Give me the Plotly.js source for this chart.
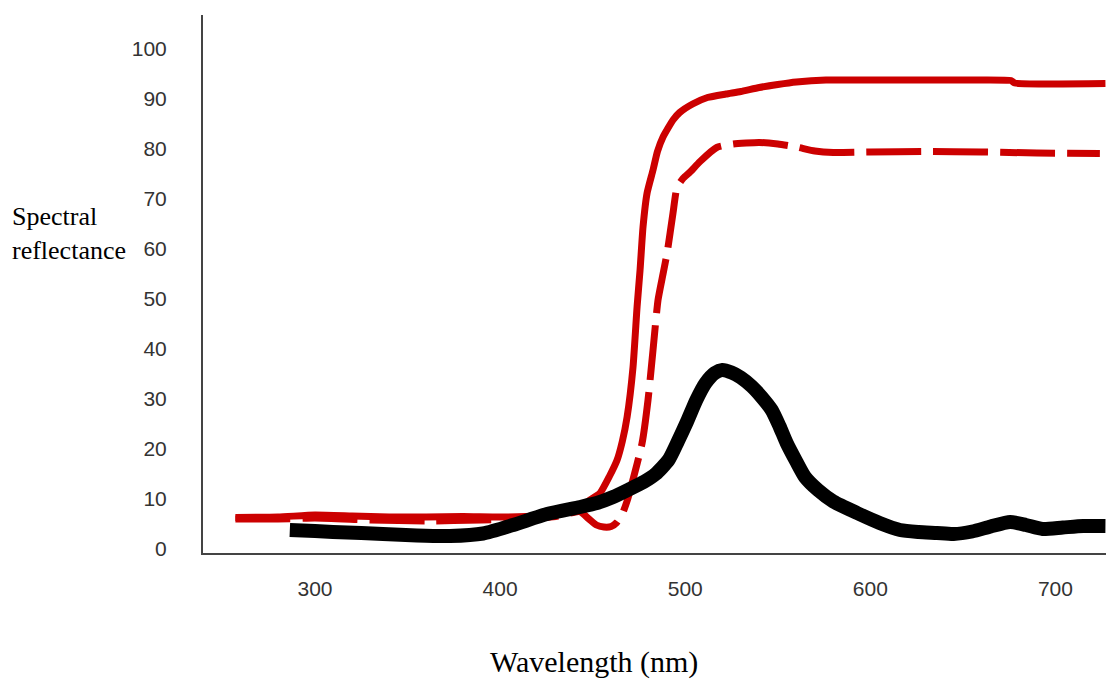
<!DOCTYPE html>
<html>
<head>
<meta charset="utf-8">
<script src="https://cdn.plot.ly/plotly-3.0.1.min.js"></script>
<style>
  html, body { margin: 0; padding: 0; background: #ffffff; }
  #chart { width: 1106px; height: 683px; }
</style>
</head>
<body>
<div id="chart"></div>
<script>
// Wavelength (nm) and spectral reflectance values
const solidX = [257, 280, 300, 320, 340, 360, 380, 400, 420, 435, 443, 448.5, 454, 459, 463.2, 466, 468.6, 471.8, 474, 475.6, 477.2, 479.4, 482.6, 485, 488, 493.4, 497, 504, 512, 522, 530, 540, 550, 560, 576, 600, 650, 676, 678, 727];
const solidY = [6.3, 6.4, 6.8, 6.6, 6.4, 6.4, 6.5, 6.4, 6.6, 7.4, 8.5, 9.8, 11.2, 14.5, 17.8, 21.5, 26.4, 36.4, 48.5, 55.8, 64.4, 71.2, 75.8, 79.5, 82.4, 85.8, 87.3, 89, 90.3, 91, 91.5, 92.3, 92.9, 93.4, 93.8, 93.8, 93.8, 93.7, 93.2, 93.1];

const dashX = [257, 280, 300, 330, 360, 390, 410, 430, 443, 448, 452, 456, 460, 463, 466, 468.5, 471.3, 476.7, 479.9, 482.6, 485.3, 488, 490.2, 493.4, 495.6, 499, 502.6, 508, 517, 526, 540, 550, 560, 570, 580, 600, 630, 660, 690, 724];
const dashY = [6.0, 6.0, 6.2, 5.8, 5.6, 5.8, 6.0, 6.5, 7.5, 6.0, 4.8, 4.4, 4.5, 5.3, 7.0, 9.5, 13.2, 21.2, 29.8, 39.8, 49.8, 55.0, 59.2, 67.2, 72.4, 74.2, 75.4, 77.5, 80.3, 81.0, 81.3, 81.0, 80.4, 79.6, 79.3, 79.4, 79.5, 79.4, 79.2, 79.1];

const blackX = [286.4, 300, 309.7, 325, 336.7, 355, 372.9, 390.8, 407, 425.3, 443.2, 452.3, 461, 470, 478, 484, 491, 496, 501, 506, 511, 516, 520, 525, 530, 536, 541, 546.7, 551, 554.8, 560, 564.7, 571.7, 580, 592.8, 605, 616, 626, 636, 645, 655, 665, 675.5, 684, 693, 704, 715, 727];
const blackY = [3.8, 3.6, 3.4, 3.2, 3.0, 2.7, 2.6, 3.1, 4.8, 7.0, 8.4, 9.2, 10.4, 12.0, 13.5, 15.0, 17.8, 21.5, 25.5, 29.8, 33.2, 35.2, 35.8, 35.3, 34.3, 32.5, 30.5, 27.8, 24.5, 21.2, 17.5, 14.4, 11.8, 9.5, 7.2, 5.2, 3.8, 3.4, 3.2, 3.0, 3.5, 4.5, 5.4, 4.8, 4.0, 4.3, 4.6, 4.6];

const yTicks = [0, 10, 20, 30, 40, 50, 60, 70, 80, 90, 100];
const xTicks = [300, 400, 500, 600, 700];
const xTitle = 'Wavelength (nm)';
const yTitle = 'Spectral<br>reflectance';

const traces = [
  { x: solidX, y: solidY, mode: 'lines', line: { color: '#cc0000', width: 7, shape: 'spline', smoothing: 0.5 }, hoverinfo: 'skip' },
  { x: dashX, y: dashY, mode: 'lines', line: { color: '#cc0000', width: 7, dash: '55px,12px', shape: 'spline', smoothing: 0.5 }, hoverinfo: 'skip' },
  { x: blackX, y: blackY, mode: 'lines', line: { color: '#000000', width: 14, shape: 'spline', smoothing: 0.6 }, hoverinfo: 'skip' }
];

const tickFont = { family: 'Liberation Sans, Arial, sans-serif', size: 21, color: '#333333' };

const layout = {
  width: 1106, height: 683,
  margin: { l: 203, r: 0, t: 15, b: 130, pad: 0 },
  paper_bgcolor: '#ffffff', plot_bgcolor: '#ffffff',
  showlegend: false,
  xaxis: {
    range: [239.5, 727.3], tickvals: xTicks, ticktext: xTicks.map(String),
    showgrid: false, zeroline: false, ticks: '', showline: true,
    linecolor: '#444444', linewidth: 2, tickfont: tickFont, ticklabelstandoff: 16
  },
  yaxis: {
    range: [-0.8, 106.8], tickvals: yTicks, ticktext: yTicks.map(String),
    showgrid: false, zeroline: false, ticks: '', showline: true,
    linecolor: '#444444', linewidth: 2, tickfont: tickFont, ticklabelstandoff: 30
  },
  annotations: [
    { text: xTitle, xref: 'paper', yref: 'paper', x: 0.433, y: -0.203, xanchor: 'center', yanchor: 'middle',
      showarrow: false, font: { family: 'Liberation Serif, Times New Roman, serif', size: 30, color: '#000000' } },
    { text: yTitle, xref: 'paper', yref: 'paper', x: -0.2135, y: 0.593, xanchor: 'left', yanchor: 'middle', align: 'left',
      showarrow: false, font: { family: 'Liberation Serif, Times New Roman, serif', size: 26, color: '#000000' } }
  ]
};

Plotly.newPlot('chart', traces, layout, { staticPlot: true, displayModeBar: false });
</script>
</body>
</html>
